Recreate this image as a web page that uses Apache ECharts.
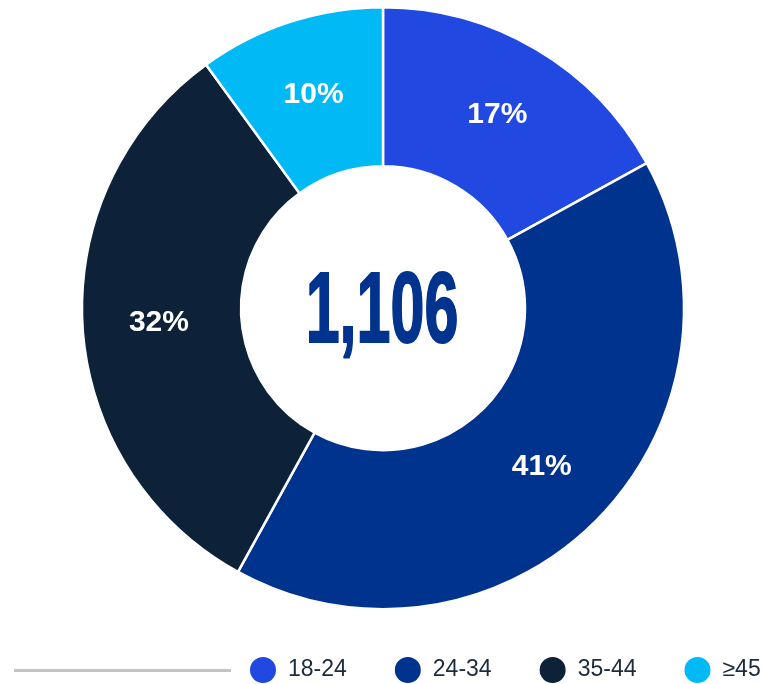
<!DOCTYPE html>
<html>
<head>
<meta charset="utf-8">
<script src="https://cdn.jsdelivr.net/npm/echarts@6/dist/echarts.min.js"></script>
<style>
  html, body { margin: 0; padding: 0; background: #ffffff; }
  #chart { width: 764px; height: 684px; }
</style>
</head>
<body>
<div id="chart"></div>
<script>
// Age groups and their share of respondents (percent)
const ageGroups = ['18-24', '24-34', '35-44', '≥45'];
const sharePercent = [17, 41, 32, 10];
const totalCount = '1,106';
const groupColors = ['#2149E2', '#00338D', '#0D2239', '#00B9F5'];

const chart = echarts.init(document.getElementById('chart'), null, { renderer: 'canvas' });

const pieData = ageGroups.map((name, i) => ({
  name: name,
  value: sharePercent[i],
  itemStyle: { color: groupColors[i] }
}));

chart.setOption({
  animation: false,
  backgroundColor: '#ffffff',
  legend: {
    data: ageGroups,
    left: 250,
    top: 657,
    width: 700,
    padding: 0,
    orient: 'horizontal',
    icon: 'circle',
    itemWidth: 26,
    itemHeight: 26,
    itemGap: 48,
    selectedMode: false,
    itemStyle: { borderWidth: 0 },
    textStyle: {
      fontFamily: 'Liberation Sans, Arial, sans-serif',
      fontSize: 23,
      color: '#1B2A3C',
      padding: [0, 0, 0, 7]
    }
  },
  graphic: [
    {
      type: 'line',
      shape: { x1: 14, y1: 670.5, x2: 231, y2: 670.5 },
      style: { stroke: '#C4C4C4', lineWidth: 3 },
      silent: true
    },
    {
      type: 'text',
      x: 382,
      y: 314,
      scaleX: 0.61,
      scaleY: 1,
      silent: true,
      style: {
        text: totalCount,
        font: 'bold 100px "Liberation Sans", Arial, sans-serif',
        fill: '#00338D',
        stroke: '#00338D',
        lineWidth: 2,
        textAlign: 'center',
        textVerticalAlign: 'middle'
      }
    }
  ],
  series: [
    {
      type: 'pie',
      center: [383, 308.2],
      radius: [142, 301],
      startAngle: 90,
      clockwise: true,
      avoidLabelOverlap: false,
      emphasis: { disabled: true },
      itemStyle: { borderColor: '#ffffff', borderWidth: 2.5 },
      label: {
        show: true,
        position: 'inside',
        formatter: '{c}%',
        color: '#ffffff',
        fontFamily: 'Liberation Sans, Arial, sans-serif',
        fontWeight: 'bold',
        fontSize: 30
      },
      labelLine: { show: false },
      data: pieData
    }
  ]
});
</script>
</body>
</html>
